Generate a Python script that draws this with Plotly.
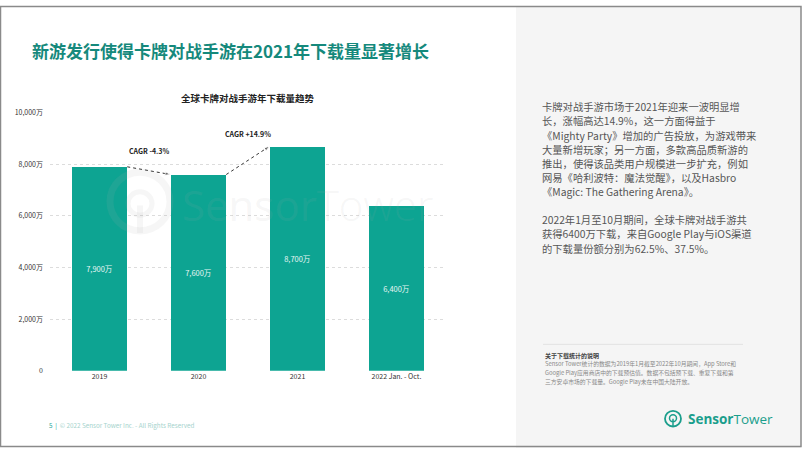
import plotly.graph_objects as go

W, H = 802, 452

categories = ["2019", "2020", "2021", "2022 Jan. - Oct."]
downloads = [7900, 7600, 8700, 6400]  # 万
bar_labels = ["7,900万", "7,600万", "8,700万", "6,400万"]
cagr_labels = ["CAGR -4.3%", "CAGR +14.9%"]
y_tickvals = [0, 2000, 4000, 6000, 8000, 10000]
y_ticktext = ["0", "2,000万", "4,000万", "6,000万", "8,000万", "10,000万"]

title_text = "新游发行使得卡牌对战手游在2021年下载量显著增长"
chart_title = "全球卡牌对战手游年下载量趋势"
para1 = [
    "卡牌对战手游市场于2021年迎来一波明显增",
    "长，涨幅高达14.9%，这一方面得益于",
    "《Mighty Party》增加的广告投放，为游戏带来",
    "大量新增玩家；另一方面，多款高品质新游的",
    "推出，使得该品类用户规模进一步扩充，例如",
    "网易《哈利波特：魔法觉醒》，以及Hasbro",
    "《Magic: The Gathering Arena》。",
]
para2 = [
    "2022年1月至10月期间，全球卡牌对战手游共",
    "获得6400万下载，来自Google Play与iOS渠道",
    "的下载量份额分别为62.5%、37.5%。",
]
note_title = "关于下载统计的说明"
note_lines = [
    "Sensor Tower统计的数据为2019年1月截至2022年10月期间，App Store和",
    "Google Play应用商店中的下载预估值。数据不包括预下载、重复下载和第",
    "三方安卓市场的下载量。Google Play未在中国大陆开放。",
]

FONT = "Noto Sans CJK SC"
TEAL = "#0da492"
WM = "rgba(170,170,170,0.11)"


def px(x):
    return x / W


def py(y):
    return 1 - y / H


bar_w = 0.56
xs = list(range(len(categories)))

fig = go.Figure()

fig.add_trace(go.Bar(
    x=xs, y=downloads, width=bar_w,
    marker=dict(color=TEAL, line=dict(width=0)),
    text=bar_labels, textposition="inside", insidetextanchor="middle",
    textfont=dict(family=FONT, size=7.5, color="#e6f6f3"),
    hoverinfo="skip", showlegend=False,
))

annotations = []
# CAGR dotted arrows
for i in range(len(downloads) - 1):
    if i >= len(cagr_labels):
        break
    x0, x1 = i + bar_w / 2, i + 1 - bar_w / 2
    y0, y1 = downloads[i], downloads[i + 1]
    fig.add_trace(go.Scatter(
        x=[x0, x1], y=[y0, y1], mode="lines+markers",
        line=dict(color="#333333", width=1, dash="dot"),
        marker=dict(symbol="arrow", angleref="previous", size=[0, 6], color="#333333"),
        hoverinfo="skip", showlegend=False,
    ))
    annotations.append(dict(
        x=i + 0.5, y=max(y0, y1), xref="x", yref="y", yshift=16 if i == 0 else 12,
        text=f"<b>{cagr_labels[i]}</b>", showarrow=False,
        font=dict(family=FONT, size=7, color="#222222"), yanchor="middle",
    ))

shapes = [
    # right panel
    dict(type="rect", xref="paper", yref="paper", x0=px(516), x1=px(801), y0=0, y1=1,
         fillcolor="#f5f5f5", line=dict(width=0), layer="below"),
    # divider
    dict(type="line", xref="paper", yref="paper", x0=px(543), x1=px(743), y0=py(346), y1=py(346),
         line=dict(color="#e2e2e2", width=1)),
    # border
    dict(type="rect", xref="paper", yref="paper", x0=px(0.5), x1=px(801), y0=py(450.5), y1=py(0.5),
         line=dict(color="#8a8a8a", width=1.5), fillcolor="rgba(0,0,0,0)"),
    # logo icon
    dict(type="circle", xref="paper", yref="paper", x0=px(665), x1=px(681), y0=py(430), y1=py(414),
         line=dict(color="#1a9e8c", width=1.8)),
    dict(type="circle", xref="paper", yref="paper", x0=px(669.5), x1=px(676.5), y0=py(425), y1=py(418),
         line=dict(color="#1a9e8c", width=1.5)),
    dict(type="line", xref="paper", yref="paper", x0=px(673), x1=px(673), y0=py(430), y1=py(422),
         line=dict(color="#1a9e8c", width=1.5)),
    # watermark icon
    dict(type="circle", xref="paper", yref="paper", x0=px(110), x1=px(170), y0=py(230), y1=py(170),
         line=dict(color=WM, width=7), layer="above"),
    dict(type="circle", xref="paper", yref="paper", x0=px(128), x1=px(152), y0=py(214), y1=py(190),
         line=dict(color=WM, width=5), layer="above"),
    dict(type="line", xref="paper", yref="paper", x0=px(140), x1=px(140), y0=py(232), y1=py(204),
         line=dict(color=WM, width=6), layer="above"),
]

# main title
annotations.append(dict(
    x=px(30), y=py(45), xref="paper", yref="paper", xanchor="left", yanchor="middle",
    text=f"<b>{title_text}</b>", showarrow=False,
    font=dict(family=FONT, size=17, color="#15897c"),
))
# chart title
annotations.append(dict(
    x=px(248), y=py(94), xref="paper", yref="paper", xanchor="center", yanchor="middle",
    text=f"<b>{chart_title}</b>", showarrow=False,
    font=dict(family=FONT, size=9.5, color="#222222"),
))
# watermark text
annotations.append(dict(
    x=px(180), y=py(203), xref="paper", yref="paper", xanchor="left", yanchor="middle",
    text="Sensor<span style='font-weight:300'>Tower</span>", showarrow=False,
    font=dict(family="Open Sans", size=42, color=WM),
))
# right paragraphs
for k, line in enumerate(para1):
    annotations.append(dict(
        x=px(540), y=py(103 + k * 14.5), xref="paper", yref="paper", xanchor="left", yanchor="middle",
        text=line, showarrow=False, font=dict(family=FONT, size=10.3, color="#555555"),
    ))
for k, line in enumerate(para2):
    annotations.append(dict(
        x=px(540), y=py(218 + k * 15), xref="paper", yref="paper", xanchor="left", yanchor="middle",
        text=line, showarrow=False, font=dict(family=FONT, size=10.3, color="#555555"),
    ))
# notes
annotations.append(dict(
    x=px(543), y=py(357), xref="paper", yref="paper", xanchor="left", yanchor="middle",
    text=f"<b>{note_title}</b>", showarrow=False, font=dict(family=FONT, size=6, color="#444444"),
))
for k, line in enumerate(note_lines):
    annotations.append(dict(
        x=px(543), y=py(366 + k * 8.8), xref="paper", yref="paper", xanchor="left", yanchor="middle",
        text=line, showarrow=False, font=dict(family=FONT, size=5.8, color="#888888"),
    ))
# logo text
annotations.append(dict(
    x=px(686), y=py(422), xref="paper", yref="paper", xanchor="left", yanchor="middle",
    text="<b>Sensor</b>Tower", showarrow=False,
    font=dict(family="Open Sans", size=13.5, color="#1a9e8c"),
))
# footer
annotations.append(dict(
    x=px(47), y=py(429), xref="paper", yref="paper", xanchor="left", yanchor="middle",
    text="<span style='color:#2aa898'>5</span>  <span style='color:#2aa898'>|</span>  © 2022 Sensor Tower Inc. - All Rights Reserved",
    showarrow=False, font=dict(family=FONT, size=6.3, color="#a6d3cd"),
))

fig.update_layout(
    width=W, height=H,
    margin=dict(l=0, r=0, t=0, b=0),
    paper_bgcolor="white", plot_bgcolor="rgba(0,0,0,0)",
    font=dict(family=FONT),
    shapes=shapes, annotations=annotations,
    showlegend=False, bargap=0,
    xaxis=dict(
        domain=[px(50), px(446)], range=[-0.5, len(categories) - 0.5],
        tickvals=xs, ticktext=categories, showgrid=False, zeroline=False,
        showline=False, ticks="", tickfont=dict(family=FONT, size=7, color="#333333"),
        fixedrange=True,
    ),
    yaxis=dict(
        domain=[py(373), py(109)], range=[0, 10000],
        tickvals=y_tickvals, ticktext=y_ticktext,
        showgrid=True, gridcolor="#dcdcdc", griddash="dot", gridwidth=1,
        zeroline=False, showline=False, ticks="", ticklabelstandoff=6,
        tickfont=dict(family=FONT, size=7, color="#333333"),
        fixedrange=True,
    ),
)

fig.write_html("out.html")
